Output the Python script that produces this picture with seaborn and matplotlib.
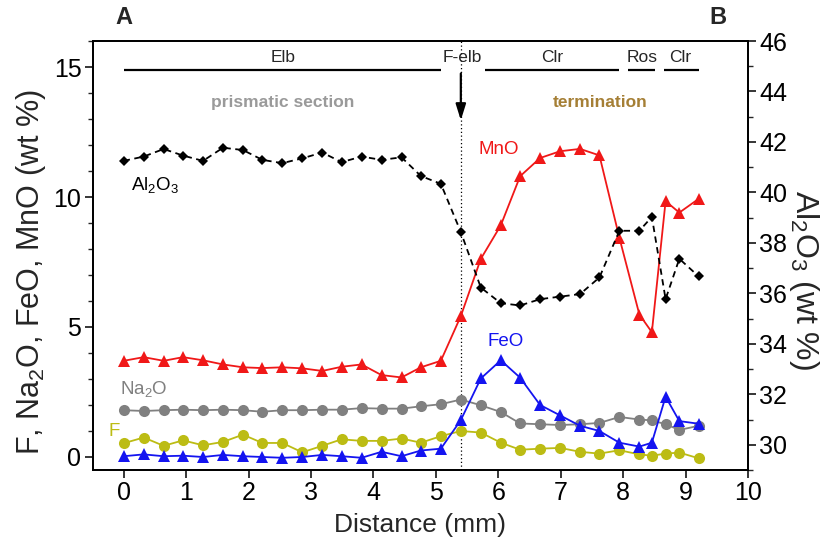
import numpy as np
import pandas as pd
import matplotlib
matplotlib.use("Agg")
import matplotlib.pyplot as plt
import seaborn as sns
from matplotlib.ticker import MultipleLocator

# ---------------- data ----------------
distance = [0.00, 0.32, 0.64, 0.95, 1.27, 1.59, 1.91, 2.22, 2.54, 2.86, 3.18, 3.49,
            3.81, 4.13, 4.45, 4.76, 5.08, 5.40, 5.72, 6.04, 6.35, 6.67, 6.99, 7.31,
            7.62, 7.94, 8.26, 8.46, 8.68, 8.90, 9.21]

mno = [3.70, 3.84, 3.70, 3.84, 3.72, 3.56, 3.45, 3.42, 3.45, 3.41, 3.31, 3.47,
       3.56, 3.15, 3.06, 3.45, 3.70, 5.42, 7.62, 8.91, 10.80, 11.50, 11.76, 11.85,
       11.60, 8.43, 5.48, 4.80, 9.84, 9.40, 9.93]

feo = [0.03, 0.10, 0.03, 0.05, 0.00, 0.08, 0.03, 0.00, -0.03, 0.00, 0.08, 0.03,
       -0.03, 0.20, 0.03, 0.25, 0.32, 1.42, 3.02, 3.72, 3.05, 2.00, 1.60, 1.20,
       1.00, 0.55, 0.40, 0.55, 2.32, 1.38, 1.28]

na2o = [1.80, 1.77, 1.80, 1.82, 1.80, 1.82, 1.80, 1.74, 1.80, 1.80, 1.82, 1.82,
        1.88, 1.86, 1.86, 1.95, 2.03, 2.21, 1.99, 1.73, 1.29, 1.26, 1.23, 1.26,
        1.31, 1.54, 1.44, 1.41, 1.26, 1.04, 1.20]

f_vals = [0.53, 0.75, 0.43, 0.64, 0.45, 0.58, 0.86, 0.54, 0.54, 0.18, 0.43, 0.68,
          0.62, 0.62, 0.71, 0.55, 0.80, 1.00, 0.94, 0.55, 0.28, 0.32, 0.35, 0.20,
          0.13, 0.26, 0.10, 0.05, 0.13, 0.17, -0.05]

al2o3 = [41.25, 41.42, 41.72, 41.46, 41.25, 41.77, 41.68, 41.29, 41.16, 41.35, 41.58, 41.20,
         41.42, 41.29, 41.39, 40.65, 40.34, 38.43, 36.23, 35.61, 35.52, 35.77, 35.87, 35.97,
         36.63, 38.48, 38.48, 39.03, 35.77, 37.37, 36.67]

boundary = 5.40

zones = ["Elb", "F-elb", "Clr", "Ros", "Clr"]
zone_start = [0.00, None, 5.79, 8.08, 8.65]
zone_end = [5.08, None, 7.93, 8.51, 9.22]
zone_label_x = [2.55, 5.42, 6.86, 8.30, 8.92]

# ---------------- style ----------------
sns.set_theme(style="ticks")
plt.rcParams["font.family"] = ["Liberation Sans", "DejaVu Sans"]
plt.rcParams["mathtext.fontset"] = "custom"
plt.rcParams["mathtext.rm"] = "Liberation Sans"
plt.rcParams["mathtext.it"] = "Liberation Sans:italic"
plt.rcParams["mathtext.bf"] = "Liberation Sans:bold"
plt.rcParams["mathtext.default"] = "regular"

RED = "#f01818"
BLUE = "#1414f0"
GRAY = "#808080"
YEL = "#bcbc14"

fig = plt.figure(figsize=(8.36, 5.51), dpi=100)
ax = fig.add_axes([92.5 / 836, 1 - 470 / 551, (748 - 92.5) / 836, (470 - 41) / 551])
ax2 = ax.twinx()

df = pd.DataFrame({"d": distance, "MnO": mno, "FeO": feo, "Na2O": na2o, "F": f_vals, "Al2O3": al2o3})

lw = 1.3
sns.lineplot(data=df, x="d", y="Na2O", ax=ax, color=GRAY, marker="o", markersize=8,
             markeredgewidth=0, linewidth=lw, sort=False, zorder=3)
sns.lineplot(data=df, x="d", y="F", ax=ax, color=YEL, marker="o", markersize=8,
             markeredgewidth=0, linewidth=lw, sort=False, zorder=3)
sns.lineplot(data=df, x="d", y="FeO", ax=ax, color=BLUE, marker="^", markersize=8.5,
             markeredgewidth=0, linewidth=lw, sort=False, zorder=4)
sns.lineplot(data=df, x="d", y="MnO", ax=ax, color=RED, marker="^", markersize=8.5,
             markeredgewidth=0, linewidth=lw, sort=False, zorder=4)
sns.lineplot(data=df, x="d", y="Al2O3", ax=ax2, color="black", marker="D", markersize=5.5,
             markeredgewidth=0, linewidth=lw, linestyle=(0, (3.5, 2.5)), sort=False, zorder=3)

ax.axvline(boundary, color="black", linestyle=(0, (1, 2)), linewidth=0.9, zorder=1)

# axes limits & ticks
ax.set_xlim(-0.5, 10)
ax.set_ylim(-0.5, 16)
ax2.set_ylim(29.0, 46)
ax.xaxis.set_major_locator(MultipleLocator(1))
ax.yaxis.set_major_locator(MultipleLocator(5))
ax.yaxis.set_minor_locator(MultipleLocator(1))
ax2.yaxis.set_major_locator(MultipleLocator(2))
ax2.yaxis.set_minor_locator(MultipleLocator(1))

for a in (ax, ax2):
    for s in a.spines.values():
        s.set_visible(True)
        s.set_linewidth(1.3)
        s.set_color("black")
    a.tick_params(axis="both", which="major", direction="out", length=6, width=1.1,
                  labelsize=18, colors="black", pad=2)
    a.tick_params(axis="both", which="minor", direction="out", length=3.5, width=1.0)
ax.tick_params(axis="y", which="both", right=False)
ax.tick_params(axis="x", which="both", top=False)
ax2.tick_params(axis="y", which="both", left=False, right=True)

ax.set_xlabel("Distance (mm)", fontsize=19, labelpad=6)
ax.set_ylabel("F, Na$_2$O, FeO, MnO (wt %)", fontsize=22)
ax2.set_ylabel("Al$_2$O$_3$ (wt %)", fontsize=23, rotation=270, va="center")
ax.yaxis.set_label_coords(-0.068, 0.4615)
ax2.yaxis.set_label_coords(1.086, 0.443)

# zone bars and labels
for name, xs, xe, xl in zip(zones, zone_start, zone_end, zone_label_x):
    if xs is not None:
        ax.plot([xs, xe], [14.89, 14.89], color="black", linewidth=1.6, solid_capstyle="butt")
    ax.text(xl, 15.38, name, ha="center", va="center", fontsize=12.5)

ax.annotate("", xy=(boundary, 12.95), xytext=(boundary, 14.75),
            arrowprops=dict(arrowstyle="-|>,head_length=0.8,head_width=0.25",
                            color="black", linewidth=1.6, shrinkA=0, shrinkB=0))

ax.text(2.54, 13.64, "prismatic section", ha="center", va="center", fontsize=12.5,
        fontweight="bold", color="#9a9a9a")
ax.text(7.63, 13.64, "termination", ha="center", va="center", fontsize=12.5,
        fontweight="bold", color="#a57f35")

ax.text(6.01, 11.81, "MnO", ha="center", va="center", fontsize=13.5, color=RED)
ax.text(6.12, 4.46, "FeO", ha="center", va="center", fontsize=13.5, color=BLUE)
ax.text(0.32, 2.61, "Na$_2$O", ha="center", va="center", fontsize=13.5, color=GRAY)
ax.text(-0.16, 0.99, "F", ha="center", va="center", fontsize=13.5, color=YEL)
ax.text(0.51, 10.46, "Al$_2$O$_3$", ha="center", va="center", fontsize=13.5, color="black")

fig.text(124 / 836, 1 - 18 / 551, "A", ha="center", va="center", fontsize=17, fontweight="bold")
fig.text(718 / 836, 1 - 18 / 551, "B", ha="center", va="center", fontsize=17, fontweight="bold")

fig.savefig("out.png", dpi=100)
